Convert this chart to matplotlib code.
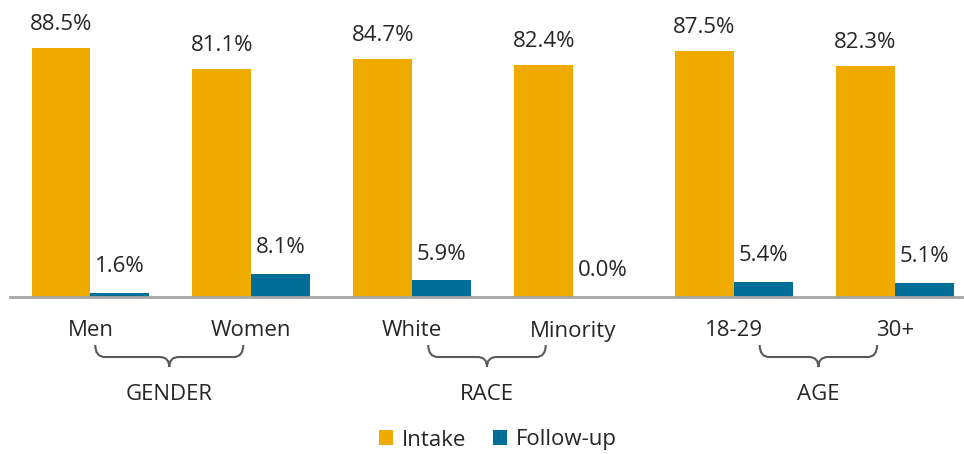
import matplotlib
matplotlib.use("Agg")
import matplotlib.pyplot as plt
from matplotlib.path import Path
from matplotlib.patches import PathPatch

categories = ["Men", "Women", "White", "Minority", "18-29", "30+"]
intake = [88.5, 81.1, 84.7, 82.4, 87.5, 82.3]
follow_up = [1.6, 8.1, 5.9, 0.0, 5.4, 5.1]
groups = ["GENDER", "RACE", "AGE"]
# brace spans (x in category units): start, end
group_spans = [(0.03, 0.95), (2.10, 2.83), (4.16, 4.89)]

ORANGE = "#F0AB00"
TEAL = "#006E96"
TEXT = "#262626"
FS = 16

plt.rcParams["font.family"] = ["Open Sans", "DejaVu Sans"]

W, H = 964, 454
fig = plt.figure(figsize=(W / 100, H / 100), dpi=100)
ax = fig.add_axes([10 / W, (H - 297) / H, (W - 10) / W, 281 / H])

x = list(range(len(categories)))
bw = 0.366
b1 = ax.bar([i - bw / 2 for i in x], intake, width=bw, color=ORANGE, label="Intake")
b2 = ax.bar([i + bw / 2 for i in x], follow_up, width=bw, color=TEAL, label="Follow-up")

for i, v in enumerate(intake):
    ax.annotate(f"{v:.1f}%", (i - bw / 2, v), xytext=(0, 17), textcoords="offset points",
                ha="center", va="center", fontsize=FS, color=TEXT)
for i, v in enumerate(follow_up):
    ax.annotate(f"{v:.1f}%", (i + bw / 2, v), xytext=(0, 19), textcoords="offset points",
                ha="center", va="center", fontsize=FS, color=TEXT)

ax.set_xlim(-0.5, 5.43)
ax.set_ylim(0, 100)
for s in ["top", "right", "left"]:
    ax.spines[s].set_visible(False)
ax.spines["bottom"].set_color("#A6A6A6")
ax.spines["bottom"].set_linewidth(2)
ax.set_xticks([])
ax.set_yticks([])

tr = ax.get_xaxis_transform()
for i, c in enumerate(categories):
    ax.text(i, -34 / 281, c, transform=tr, ha="center", va="center", fontsize=FS, color=TEXT)

y_top, y_mid, y_tip = -48 / 281, -60 / 281, -70 / 281
r = 0.06
for name, (x0, x1) in zip(groups, group_spans):
    xm = (x0 + x1) / 2
    verts = [(x0, y_top), (x0, y_mid), (x0 + r, y_mid),
             (xm - r, y_mid),
             (xm, y_mid), (xm, y_tip),
             (xm, y_mid), (xm + r, y_mid),
             (x1 - r, y_mid),
             (x1, y_mid), (x1, y_top)]
    codes = [Path.MOVETO, Path.CURVE3, Path.CURVE3,
             Path.LINETO,
             Path.CURVE3, Path.CURVE3,
             Path.CURVE3, Path.CURVE3,
             Path.LINETO,
             Path.CURVE3, Path.CURVE3]
    ax.add_patch(PathPatch(Path(verts, codes), transform=tr, fc="none", ec="#595959",
                           lw=1.5, clip_on=False))
    ax.text(xm, -97 / 281, name, transform=tr, ha="center", va="center", fontsize=FS, color=TEXT)

fig.legend(handles=[b1, b2], labels=["Intake", "Follow-up"], loc="center",
           bbox_to_anchor=(498 / W, 1 - 440 / H), ncol=2, frameon=False,
           fontsize=FS, handlelength=0.65, handleheight=0.65, handletextpad=0.4,
           columnspacing=1.2, labelcolor=TEXT)

fig.savefig("out.png", dpi=100)
